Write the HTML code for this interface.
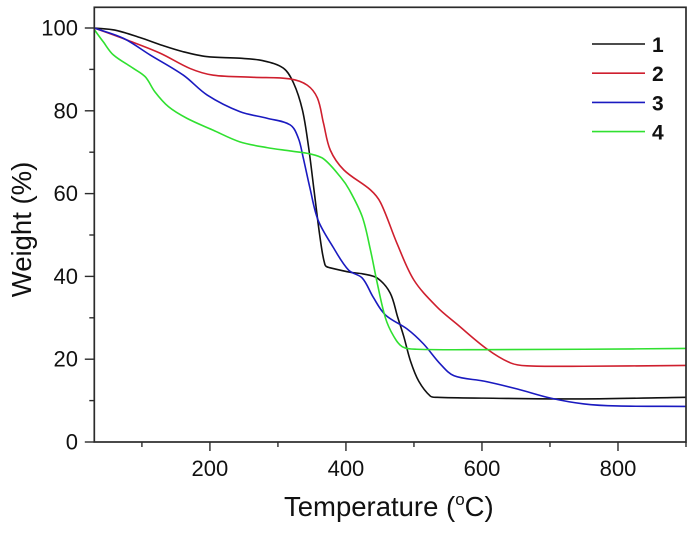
<!DOCTYPE html>
<html>
<head>
<meta charset="utf-8">
<title>Weight vs Temperature</title>
<style>
html,body{margin:0;padding:0;background:#fff;width:698px;height:534px;overflow:hidden}
svg{display:block;font-family:"Liberation Sans",sans-serif}
</style>
</head>
<body>
<svg id="chart" width="698" height="534" viewBox="0 0 698 534" xmlns="http://www.w3.org/2000/svg"></svg>
<script>
const xMajorTicks = [200, 400, 600, 800];
const xMinorTicks = [100, 300, 500, 700, 900];
const yMajorTicks = [0, 20, 40, 60, 80, 100];
const yMinorTicks = [10, 30, 50, 70, 90];
const seriesNames = ['1', '2', '3', '4'];
const seriesColors = ['#111111', '#cf1f2e', '#1a1ac0', '#30e030'];

const temps1 = [30,60,97,130,160,195,244,278,308,323,336,345,353,359,365,369,371,376,406,425,446,465,476,485,495,507,524,534,602,749,900];
const weights1 = [100,99.5,97.7,95.8,94.3,93.1,92.7,92.1,90.3,86.7,80.2,71.3,60.9,52.9,46,42.9,42.4,42.1,41,40.6,39.6,36,30.2,25.5,19.5,14.7,11.1,10.8,10.6,10.4,10.8];

const temps2 = [30,78,127,171,205,264,318,343,358,367,377,397,436,451,475,500,534,563,607,642,666,750,900];
const weights2 = [100,97.1,93.9,90.2,88.6,88.1,87.7,86.2,83.1,77,70.5,65.7,60.9,57.8,48,39.1,32.6,28.5,22.5,19.1,18.4,18.3,18.5];

const temps3 = [30,73,112,161,196,244,284,318,330,337,347,359,381,404,424,440,458,490,514,539,559,603,652,701,750,799,900];
const weights3 = [100,97.5,93.5,88.6,83.8,79.8,78.2,76.6,73.4,68.8,61.4,53.6,47.1,41.5,39.6,35,30.7,27.3,23.7,18.8,16,14.7,12.8,10.6,9.2,8.7,8.6];

const temps4 = [30,43,58,87,105,119,139,166,205,244,284,318,347,367,392,405,424,436,446,458,470,483,504,602,750,900];
const weights4 = [99.6,96.7,93.5,90.3,88.2,84.6,81,78.2,75.3,72.5,71.1,70.3,69.6,68.4,64,60.9,54.4,46.4,38.4,30,25.6,23,22.4,22.3,22.4,22.6];

const allTemps = [temps1, temps2, temps3, temps4];
const allWeights = [weights1, weights2, weights3, weights4];

const NS = 'http://www.w3.org/2000/svg';
const svg = document.getElementById('chart');
const xLeft = 94.3, xRight = 686, yBase = 442, yTop = 7.3;
function sx(t) { return xLeft + (t - 30) * (xRight - xLeft) / 870; }
function sy(v) { return yBase - v * 4.14; }

function make(tag, attrs, text) {
  const el = document.createElementNS(NS, tag);
  for (const k in attrs) el.setAttribute(k, attrs[k]);
  if (text !== undefined) el.textContent = text;
  svg.appendChild(el);
  return el;
}
function smoothPath(ts, vs) {
  const p = ts.map((t, i) => [sx(t), sy(vs[i])]);
  const n = p.length;
  const dist = (a, b) => Math.hypot(a[0] - b[0], a[1] - b[1]) || 1e-6;
  // tangents lean toward the longer neighbouring segment, so flat tails do not overshoot
  const tan = p.map((q, i) => {
    const a = p[Math.max(i - 1, 0)], c = p[Math.min(i + 1, n - 1)];
    let tx, ty;
    if (i === 0 || i === n - 1) { tx = c[0] - a[0]; ty = c[1] - a[1]; }
    else { tx = c[0] - a[0]; ty = c[1] - a[1]; }
    const l = Math.hypot(tx, ty) || 1;
    return [tx / l, ty / l];
  });
  let d = 'M' + p[0][0].toFixed(2) + ' ' + p[0][1].toFixed(2);
  for (let i = 0; i < n - 1; i++) {
    const b = p[i], c = p[i + 1], h = dist(b, c) / 3;
    d += 'C' + (b[0] + tan[i][0] * h).toFixed(2) + ' ' + (b[1] + tan[i][1] * h).toFixed(2) + ' ' +
         (c[0] - tan[i + 1][0] * h).toFixed(2) + ' ' + (c[1] - tan[i + 1][1] * h).toFixed(2) + ' ' +
         c[0].toFixed(2) + ' ' + c[1].toFixed(2);
  }
  return d;
}

// series
allTemps.forEach(function (ts, i) {
  const line = make('path', { d: smoothPath(ts, allWeights[i]), fill: 'none', stroke: seriesColors[i], 'stroke-width': 1.6, 'stroke-linejoin': 'round' });
  
  
});

// frame
const frame = make('rect', { x: xLeft, y: yTop, width: xRight - xLeft, height: yBase - yTop, fill: 'none', stroke: '#2b2b2b', 'stroke-width': 1.7 });



// y ticks
yMajorTicks.forEach(function (v) {
  const tick = make('line', { x1: xLeft - 9.5, x2: xLeft, y1: sy(v), y2: sy(v), stroke: '#2b2b2b', 'stroke-width': 1.4 });
  
  
  const label = make('text', { x: 78, y: sy(v) + 7.5, 'text-anchor': 'end', 'font-size': 22, fill: '#111' }, String(v));
  
  
});
yMinorTicks.forEach(function (v) {
  const tick = make('line', { x1: xLeft - 5, x2: xLeft, y1: sy(v), y2: sy(v), stroke: '#2b2b2b', 'stroke-width': 1.4 });
  
  
});

// x ticks
xMajorTicks.forEach(function (t) {
  const tick = make('line', { x1: sx(t), x2: sx(t), y1: yBase, y2: yBase + 9, stroke: '#2b2b2b', 'stroke-width': 1.4 });
  
  
  const label = make('text', { x: sx(t), y: 476, 'text-anchor': 'middle', 'font-size': 22, fill: '#111' }, String(t));
  
  
});
xMinorTicks.forEach(function (t) {
  const tick = make('line', { x1: sx(t), x2: sx(t), y1: yBase, y2: yBase + 5, stroke: '#2b2b2b', 'stroke-width': 1.4 });
  
  
});

// axis titles
const yTitle = make('text', { transform: 'translate(31,229.5) rotate(-90)', 'text-anchor': 'middle', 'font-size': 27.5, fill: '#111' }, 'Weight (%)');



const xTitle = make('text', { x: 284, y: 516, 'font-size': 27.5, fill: '#111' });


xTitle.appendChild(document.createTextNode('Temperature ('));
const deg = document.createElementNS(NS, 'tspan');
deg.setAttribute('dy', '-11');
deg.setAttribute('font-size', '17');
deg.textContent = 'o';
xTitle.appendChild(deg);
const unit = document.createElementNS(NS, 'tspan');
unit.setAttribute('dy', '11');
unit.textContent = 'C)';
xTitle.appendChild(unit);

// legend
seriesNames.forEach(function (name, i) {
  const ly = 44 + i * 29.2;
  const swatch = make('line', { x1: 592, x2: 645, y1: ly, y2: ly, stroke: seriesColors[i], 'stroke-width': 1.6 });
  
  
  const text = make('text', { x: 652, y: ly + 8, 'font-size': 21, 'font-weight': 'bold', fill: '#111' }, name);
  
  
});
</script>
</body>
</html>
